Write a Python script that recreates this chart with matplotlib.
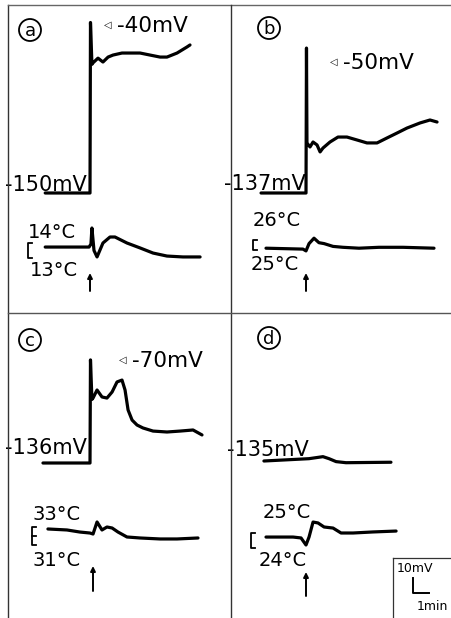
import matplotlib
matplotlib.use('Agg')
import matplotlib.pyplot as plt
from matplotlib.lines import Line2D
from matplotlib.patches import Circle

plt.rcParams['font.family'] = ['DejaVu Sans']

W, H, DPI = 452, 618, 100
PX_MIN = 16.0   # pixels per minute
PX_MV = 1.55    # pixels per mV

# ---------------- data ----------------
panel_labels = ['a', 'b', 'c', 'd']
rest_mv = [-150, -137, -136, -135]
peak_labels = ['-40mV', '-50mV', '-70mV', None]
temp_high = [14, 26, 33, 25]
temp_low = [13, 25, 31, 24]

# membrane potential traces (time in min from stimulus, mV)
a_v_t = [-2.8, 0.0, 0.03, 0.12, 0.19, 0.5, 0.81, 1.13, 1.44, 2.0, 2.5, 3.13, 3.75, 4.38, 4.81, 5.44, 6.06, 6.25]
a_v_mv = [-150, -150, -40, -67, -66, -63, -65.5, -62.3, -61, -59.7, -59.7, -59.7, -61, -62.3, -62.3, -59.7, -55.8, -54.5]
b_v_t = [-2.81, 0.0, 0.03, 0.06, 0.25, 0.44, 0.69, 0.88, 1.06, 1.5, 2.0, 2.56, 3.19, 3.81, 4.44, 5.06, 5.69, 6.31, 7.13, 7.75, 8.19]
b_v_mv = [-137, -137, -43.5, -104.7, -107.3, -104.1, -106.0, -110.5, -108.0, -104.1, -100.9, -100.9, -102.8, -104.7, -104.7, -101.5, -98.3, -95.1, -91.8, -89.9, -91.2]
c_v_t = [-2.94, 0.0, 0.03, 0.12, 0.19, 0.44, 0.75, 1.06, 1.38, 1.69, 2.0, 2.19, 2.38, 2.63, 2.94, 3.31, 3.94, 4.81, 5.63, 6.44, 7.0]
c_v_mv = [-136, -136, -69.5, -95, -94.1, -88.9, -93.4, -94.1, -90.2, -83.7, -82.5, -88.9, -101.8, -108.3, -111.5, -113.4, -115.4, -116.0, -115.4, -114.7, -117.9]
d_v_t = [-2.63, 0.19, 1.06, 1.44, 1.88, 2.5, 5.31]
d_v_mv = [-135, -133.5, -132.2, -133.5, -135.4, -136.1, -135.8]

# temperature traces (time in min, degC)
a_T_t = [-2.8, -0.06, 0.06, 0.12, 0.25, 0.44, 0.81, 1.25, 1.56, 2.31, 3.13, 3.94, 4.81, 5.81, 6.88]
a_T_c = [13.73, 13.73, 13.93, 15.0, 13.5, 13.07, 14.0, 14.4, 14.4, 14.0, 13.67, 13.33, 13.13, 13.07, 13.07]
b_T_t = [-2.5, -0.19, 0.0, 0.19, 0.5, 0.81, 1.13, 1.69, 2.31, 3.31, 4.56, 6.06, 8.0]
b_T_c = [25.18, 25.09, 24.91, 25.64, 26.18, 25.73, 25.64, 25.36, 25.27, 25.18, 25.27, 25.27, 25.18]
c_T_t = [-2.63, -1.44, -0.63, 0.0, 0.19, 0.44, 0.75, 1.06, 1.38, 1.75, 2.31, 3.13, 4.38, 5.44, 6.75]
c_T_c = [32.78, 32.67, 32.44, 32.33, 32.22, 33.56, 32.67, 33.0, 32.89, 32.44, 31.89, 31.78, 31.67, 31.67, 31.78]
d_T_t = [-2.5, -0.81, -0.31, 0.0, 0.19, 0.44, 0.75, 1.13, 1.69, 2.19, 2.94, 4.19, 5.63]
d_T_c = [24.73, 24.73, 24.67, 24.2, 24.73, 25.73, 25.67, 25.4, 25.33, 25.0, 25.0, 25.07, 25.13]

v_series = [(a_v_t, a_v_mv), (b_v_t, b_v_mv), (c_v_t, c_v_mv), (d_v_t, d_v_mv)]
T_series = [(a_T_t, a_T_c), (b_T_t, b_T_c), (c_T_t, c_T_c), (d_T_t, d_T_c)]

# ---------------- layout (pixels) ----------------
rects = [(8, 5, 231, 313), (231, 5, 452, 313), (8, 313, 231, 618), (231, 313, 452, 618)]
stim_x = [90, 306, 90, 306]
base_y = [193, 193, 463, 461]
brackets = [(28, 243, 258), (253, 240, 250), (32, 527, 545), (251, 533, 548)]
circle_pos = [(30, 30), (269, 28), (30, 340), (269, 338)]
peak_marker_px = [(108, 25), (334, 62), (123, 360), None]
rest_off = [(-3, 2), (0, 2.5), (-3, 8.5), (3, 5.5)]
hi_off = [(0, 5.5), (0, 14.5), (1, 7.5), (12, 15.5)]
lo_off = [(2, -17.5), (-2, -19.5), (1, -20.5), (8, -17.5)]
arrow_px = [(90, 273, 291), (306, 273, 291), (93, 566, 591), (306, 572, 596)]

fig = plt.figure(figsize=(W / DPI, H / DPI), dpi=DPI)
fig.patch.set_facecolor('white')

LW = 2.3
FS_REST = 15
FS_PEAK = 15.5
FS_TEMP = 14

def px2data(ax, px, py):
    return ax.transData.inverted().transform((px, H - py))

for i in range(4):
    x0, y0, x1, y1 = rects[i]
    pos = [x0 / W, 1 - y1 / H, (x1 - x0) / W, (y1 - y0) / H]
    sx, by, V0 = stim_x[i], base_y[i], rest_mv[i]
    axV = fig.add_axes(pos, label=f'v{i}')
    axV.set_xlim((x0 - sx) / PX_MIN, (x1 - sx) / PX_MIN)
    axV.set_ylim(V0 - (y1 - by) / PX_MV, V0 + (by - y0) / PX_MV)
    axV.axis('off')
    axV.patch.set_alpha(0)

    bx, btop, bbot = brackets[i]
    Th, Tl = temp_high[i], temp_low[i]
    pxT = (bbot - btop) / (Th - Tl)
    axT = fig.add_axes(pos, label=f't{i}')
    axT.set_xlim(axV.get_xlim())
    axT.set_ylim(Tl - (y1 - bbot) / pxT, Tl + (bbot - y0) / pxT)
    axT.axis('off')
    axT.patch.set_alpha(0)

    # traces
    vt, vv = v_series[i]
    axV.plot(vt, vv, color='black', lw=LW, solid_joinstyle='round', solid_capstyle='round')
    tt, tc = T_series[i]
    axT.plot(tt, tc, color='black', lw=LW, solid_joinstyle='round', solid_capstyle='round')

    # resting potential label
    axV.annotate(f'{V0}mV', xy=(0, V0), xytext=rest_off[i], textcoords='offset pixels',
                 ha='right', va='baseline', fontsize=FS_REST)

    # peak label
    if peak_labels[i] is not None:
        mx, my = peak_marker_px[i]
        tm, vm = px2data(axV, mx, my)
        axV.text(tm, vm, '◁', fontsize=7, ha='center', va='center')
        axV.annotate(peak_labels[i], xy=(tm, vm), xytext=(9, -7), textcoords='offset pixels',
                     ha='left', va='baseline', fontsize=FS_PEAK)

    # temperature bracket
    tb = (bx - sx) / PX_MIN
    tick = 4 / PX_MIN
    axT.plot([tb + tick, tb, tb, tb + tick], [Th, Th, Tl, Tl], color='black', lw=1.3)
    if Th - Tl == 2:
        axT.plot([tb, tb + tick], [Tl + 1, Tl + 1], color='black', lw=1.3)
    axT.annotate(f'{Th}°C', xy=(tb, Th), xytext=hi_off[i], textcoords='offset pixels',
                 ha='left', va='baseline', fontsize=FS_TEMP)
    axT.annotate(f'{Tl}°C', xy=(tb, Tl), xytext=lo_off[i], textcoords='offset pixels',
                 ha='left', va='baseline', fontsize=FS_TEMP)

    # stimulus arrow
    ax_, ytop, ybot = arrow_px[i]
    ta = (ax_ - sx) / PX_MIN
    axV.annotate('', xy=(ta, H - ytop), xytext=(ta, H - ybot),
                 xycoords=('data', 'figure pixels'), textcoords=('data', 'figure pixels'),
                 arrowprops=dict(arrowstyle='-|>', lw=1.4, color='black',
                                 mutation_scale=7, shrinkA=0, shrinkB=0))

    # circled panel letter
    cx, cy = circle_pos[i]
    fig.add_artist(Circle((cx / DPI, (H - cy) / DPI), 11 / DPI, transform=fig.dpi_scale_trans,
                          fill=False, ec='black', lw=1.3))
    fig.text(cx / W, 1 - (cy + 1) / H, panel_labels[i], ha='center', va='center', fontsize=13)

    if i == 3:
        # scale bar: 10 mV / 1 min
        t0, v0 = px2data(axV, 413, 593)
        axV.plot([t0, t0, t0 + 1.0], [v0 + 10, v0, v0], color='black', lw=1.4, clip_on=False)
        fig.text(397 / W, 1 - 568 / H, '10mV', ha='left', va='center', fontsize=9)
        fig.text(417 / W, 1 - 607 / H, '1min', ha='left', va='center', fontsize=9)

# frame lines
def fline(xs, ys, color='#333333', lw=1.0):
    fig.add_artist(Line2D([x / W for x in xs], [1 - y / H for y in ys],
                          transform=fig.transFigure, color=color, lw=lw))

fline([8, 8], [5, 618])
fline([8, 452], [5, 5], color='#666666')
fline([231, 231], [5, 618])
fline([8, 452], [313, 313], color='#555555')
fline([393, 393], [558, 618], lw=0.9)
fline([393, 452], [558, 558], lw=0.9)

fig.savefig('out.png', dpi=DPI)
